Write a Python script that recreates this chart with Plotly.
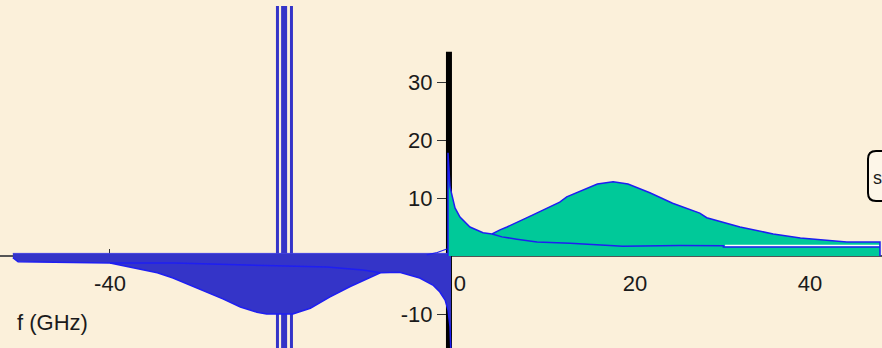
import plotly.graph_objects as go

# ---------------- data ----------------
# positive-frequency spectrum: upper envelope (green filled)
pos_f = [-1.37, -1.14, -0.57, 0.0, 1.14, 2.63, 3.66, 4.57, 5.37, 8.34, 11.4, 12.2,
         15.7, 17.5, 19.2, 21.7, 24.3, 27.4, 28.2, 32.0, 35.8, 38.9, 41.5, 44.2, 48.0]
pos_s = [17.8, 11.9, 8.3, 6.7, 5.0, 4.0, 3.8, 4.5, 5.0, 7.1, 9.3, 10.2,
         12.4, 12.8, 12.4, 10.9, 9.1, 7.4, 6.6, 5.0, 3.8, 3.1, 2.8, 2.4, 2.4]

# positive-frequency lower curve (blue line inside the green)
low_f = [3.66, 4.8, 6.5, 8.8, 12.6, 18.6, 25.1, 30.1, 30.1, 48.0]
low_s = [3.8, 3.3, 2.9, 2.4, 2.2, 1.7, 1.8, 1.75, 1.55, 1.55]
gap_f = [30.3, 47.9]
gap_s = [1.78, 1.78]

# negative-frequency spectrum (blue filled), lower boundary
neg_f = [-51.1, -50.5, -40.0, -36.6, -34.6, -32.8, -30.9, -28.9, -27.1, -25.1, -23.2,
         -22.1, -19.1, -17.1, -14.9, -12.6, -10.6, -9.1, -6.9, -4.6, -3.1, -2.3, -1.7,
         -1.37, -1.14, -1.03]
neg_s = [-0.3, -1.0, -1.2, -2.2, -2.9, -3.8, -5.0, -6.2, -7.4, -8.8, -9.7,
         -10.0, -10.0, -9.0, -7.1, -5.3, -4.0, -2.9, -2.8, -3.8, -5.0, -6.2, -7.6,
         -9.3, -12.2, -17.0]
top_f = [-51.1, -1.03]
top_s = [0.45, 0.45]
inner_f = [-40.0, -32.6, -21.0, -15.2, -11.1, -9.1]
inner_s = [-1.2, -1.2, -1.7, -1.9, -2.4, -2.9]
hook_f = [-3.8, -2.6, -1.5]
hook_s = [0.2, 0.6, 1.2]

# marker lines near -20 GHz
mark_f = [-20.86, -20.1, -19.26]
mark_w = [3, 6, 3]
mark_top = 43.1

# vertical axis line
axis_f = -1.26
axis_top = 35.2

x_ticks = [-40, -20, 0, 20, 40]
x_ticktext = ["-40", "-20", "0", "20", "40"]
y_ticks = [-10, 10, 20, 30]
y_ticktext = ["-10", "10", "20", "30"]
x_title = "f (GHz)"
box_text = "s"

# ---------------- style ----------------
W, H = 882, 348
XR = [-52.57, 48.23]
YR = [-15.86, 44.14]
BG = "#FBF0DA"
BLUE_FILL = "#3434C8"
BLUE_LINE = "#1E1EF2"
GREEN = "#00C999"
TXT = "#1A1A1A"
FONT = "Liberation Sans, Arial, sans-serif"

fig = go.Figure()

# black vertical axis line (under the data)
fig.add_trace(go.Scatter(x=[axis_f, axis_f], y=[YR[0] - 2, axis_top], mode="lines",
                         line=dict(color="black", width=6), hoverinfo="skip"))

# marker lines
for f, w in zip(mark_f, mark_w):
    fig.add_trace(go.Scatter(x=[f, f], y=[YR[0] - 2, mark_top], mode="lines",
                             line=dict(color=BLUE_FILL, width=w), hoverinfo="skip"))

# negative-frequency filled region
poly_x = neg_f + top_f[::-1]
poly_y = neg_s + top_s[::-1]
fig.add_trace(go.Scatter(x=poly_x, y=poly_y, mode="lines", fill="toself",
                         fillcolor=BLUE_FILL, line=dict(width=0), hoverinfo="skip"))
fig.add_trace(go.Scatter(x=neg_f, y=neg_s, mode="lines",
                         line=dict(color=BLUE_LINE, width=1.5), hoverinfo="skip"))
fig.add_trace(go.Scatter(x=top_f, y=top_s, mode="lines",
                         line=dict(color="#4040E0", width=1), hoverinfo="skip"))
fig.add_trace(go.Scatter(x=inner_f, y=inner_s, mode="lines",
                         line=dict(color=BLUE_LINE, width=1.5), hoverinfo="skip"))
fig.add_trace(go.Scatter(x=hook_f, y=hook_s, mode="lines",
                         line=dict(color=BLUE_LINE, width=1.2), hoverinfo="skip"))

# positive-frequency green region
gx = [pos_f[0]] + pos_f + [pos_f[-1]]
gy = [0] + pos_s + [0]
fig.add_trace(go.Scatter(x=gx, y=gy, mode="lines", fill="tozeroy", fillcolor=GREEN,
                         line=dict(color=BLUE_LINE, width=1.5), hoverinfo="skip"))
fig.add_trace(go.Scatter(x=gap_f, y=gap_s, mode="lines",
                         line=dict(color="white", width=2), hoverinfo="skip"))
fig.add_trace(go.Scatter(x=low_f, y=low_s, mode="lines",
                         line=dict(color=BLUE_LINE, width=1.5), hoverinfo="skip"))

x_pos = (0 - YR[0]) / (YR[1] - YR[0])
y_pos = 446 / W

fig.update_layout(
    width=W, height=H, margin=dict(l=0, r=0, t=0, b=0),
    paper_bgcolor=BG, plot_bgcolor=BG, showlegend=False,
    font=dict(family=FONT, size=22, color=TXT),
    xaxis=dict(range=XR, showgrid=False, zeroline=False, showline=True,
               linecolor="#555555", linewidth=1.5, anchor="free", position=x_pos,
               tickvals=x_ticks, ticktext=x_ticktext, ticks="inside", ticklen=6,
               tickcolor="#333333", tickfont=dict(size=22, color=TXT),
               layer="below traces", ticklabelstandoff=8),
    yaxis=dict(range=YR, showgrid=False, zeroline=False, showline=False,
               anchor="free", position=y_pos, tickvals=y_ticks, ticktext=y_ticktext,
               ticks="outside", ticklen=9, tickcolor="#333333",
               tickfont=dict(size=22, color=TXT), layer="below traces"),
)

fig.add_annotation(text=x_title, xref="paper", yref="paper", x=15 / W, y=26 / H,
                   xanchor="left", yanchor="middle", showarrow=False,
                   font=dict(size=22, color=TXT))

# rounded box at the right edge (partly outside the picture)
x0, x1 = 868 / W, 910 / W
y0, y1 = (H - 201) / H, (H - 151) / H
rx, ry = 8 / W, 8 / H
path = (f"M {x0 + rx},{y1} L {x1},{y1} L {x1},{y0} L {x0 + rx},{y0} "
        f"Q {x0},{y0} {x0},{y0 + ry} L {x0},{y1 - ry} Q {x0},{y1} {x0 + rx},{y1} Z")
fig.add_shape(type="path", path=path, xref="paper", yref="paper",
              line=dict(color="black", width=2), fillcolor="#FDF6E8")
fig.add_annotation(text=box_text, xref="paper", yref="paper", x=871 / W, y=(H - 178) / H,
                   xanchor="left", yanchor="middle", showarrow=False,
                   font=dict(size=18, color=TXT))

fig.write_html("out.html")
